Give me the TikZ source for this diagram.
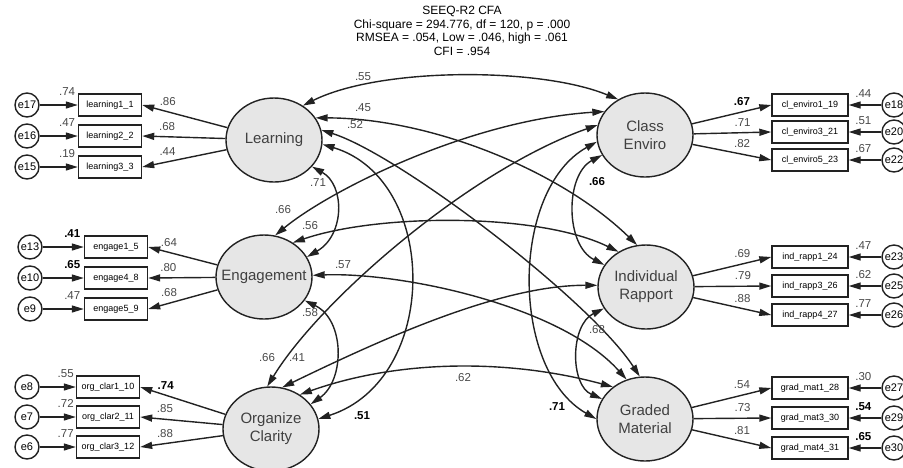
\documentclass[tikz,border=0pt]{standalone}
\usepackage{fontspec}
\setmainfont{Liberation Sans}
\usepackage{xcolor}
\usetikzlibrary{arrows.meta,positioning,shapes.geometric}
\definecolor{linec}{HTML}{222222}
\definecolor{latfill}{HTML}{E6E6E6}
\definecolor{numc}{HTML}{484848}
\tikzset{
  ar/.style={-{Triangle[length=12pt,width=7pt]},line width=1.4pt,linec},
  cov/.style={arrows={Triangle[length=12pt,width=7pt]-Triangle[length=12pt,width=7pt]},line width=1.4pt,linec},
  latent/.style={ellipse,draw=linec,line width=1.4pt,fill=latfill,minimum width=96pt,minimum height=84pt,inner sep=0pt,align=center,font=\fontsize{15}{18}\selectfont,text=black!75},
  obs/.style={draw=linec,line width=1.4pt,minimum height=22pt,inner sep=0pt,font=\fontsize{9}{10}\selectfont},
  err/.style={circle,draw=linec,line width=1.4pt,minimum size=24pt,inner sep=0pt,font=\fontsize{11}{12}\selectfont},
  num/.style={font=\fontsize{11.5}{12}\selectfont,text=numc,inner sep=0.5pt},
  bnum/.style={num,text=black,font=\fontsize{11.5}{12}\selectfont\bfseries}
}
\begin{document}
\begin{tikzpicture}[x=1pt,y=-1pt]
\useasboundingbox (0,0) rectangle (903,467);
\node[font=\fontsize{12}{13.5}\selectfont,align=center] (title) at (462,31)
  {SEEQ-R2 CFA\\Chi-square = 294.776, df = 120, p = .000\\RMSEA = .054, Low = .046, high = .061\\CFI = .954};

% latent factors
\node[latent] (learn) at (274,140) {Learning};
\node[latent,inner xsep=-16pt] (engage) at (264,277) {Engagement};
\node[latent] (organize) at (271,429) {Organize\\Clarity};
\node[latent] (classenv) at (645,135) {Class\\Enviro};
\node[latent] (rapport) at (646,287) {Individual\\Rapport};
\node[latent] (graded) at (645,419) {Graded\\Material};

% left indicators
\node[obs,minimum width=63pt] (l1) at (110,105) {learning1\_1};
\node[obs,minimum width=63pt] (l2) at (110,136) {learning2\_2};
\node[obs,minimum width=63pt] (l3) at (110,167) {learning3\_3};
\node[err] (e17) at (27,105) {e17};
\node[err] (e16) at (27,136) {e16};
\node[err] (e15) at (27,167) {e15};
\draw[ar] (e17) -- node[num,pos=.72,above=8pt] (el1) {.74} (l1);
\draw[ar] (e16) -- node[num,pos=.72,above=8pt] (el2) {.47} (l2);
\draw[ar] (e15) -- node[num,pos=.72,above=8pt] (el3) {.19} (l3);
\draw[ar] (learn) -- node[num,pos=.7,above=5pt] (ll1) {.86} (l1.east);
\draw[ar] (learn) -- node[num,pos=.7,above=5pt] (ll2) {.68} (l2.east);
\draw[ar] (learn) -- node[num,pos=.7,above=5pt] (ll3) {.44} (l3.east);

\node[obs,minimum width=63pt] (g1) at (116,247) {engage1\_5};
\node[obs,minimum width=63pt] (g2) at (116,278) {engage4\_8};
\node[obs,minimum width=63pt] (g3) at (116,309) {engage5\_9};
\node[err] (e13) at (30,247) {e13};
\node[err] (e10) at (30,278) {e10};
\node[err] (e9) at (30,309) {e9};
\draw[ar] (e13) -- node[bnum,pos=.72,above=8pt] (eg1) {.41} (g1);
\draw[ar] (e10) -- node[bnum,pos=.72,above=8pt] (eg2) {.65} (g2);
\draw[ar] (e9) -- node[num,pos=.72,above=8pt] (eg3) {.47} (g3);
\draw[ar] (engage) -- node[num,pos=.7,above=5pt] (gg1) {.64} (g1.east);
\draw[ar] (engage) -- node[num,pos=.7,above=5pt] (gg2) {.80} (g2.east);
\draw[ar] (engage) -- node[num,pos=.7,above=5pt] (gg3) {.68} (g3.east);

\node[obs,minimum width=63pt] (o1) at (108,387) {org\_clar1\_10};
\node[obs,minimum width=63pt] (o2) at (108,417) {org\_clar2\_11};
\node[obs,minimum width=63pt] (o3) at (108,447) {org\_clar3\_12};
\node[err] (e8) at (27,387) {e8};
\node[err] (e7) at (27,417) {e7};
\node[err] (e6) at (27,447) {e6};
\draw[ar] (e8) -- node[num,pos=.72,above=8pt] (eo1) {.55} (o1);
\draw[ar] (e7) -- node[num,pos=.72,above=8pt] (eo2) {.72} (o2);
\draw[ar] (e6) -- node[num,pos=.72,above=8pt] (eo3) {.77} (o3);
\draw[ar] (organize) -- node[bnum,pos=.7,above=5pt] (oo1) {.74} (o1.east);
\draw[ar] (organize) -- node[num,pos=.7,above=5pt] (oo2) {.85} (o2.east);
\draw[ar] (organize) -- node[num,pos=.7,above=5pt] (oo3) {.88} (o3.east);

% right indicators
\node[obs,minimum width=76pt] (c1) at (810,105) {cl\_enviro1\_19};
\node[obs,minimum width=76pt] (c2) at (810,132) {cl\_enviro3\_21};
\node[obs,minimum width=76pt] (c3) at (810,160) {cl\_enviro5\_23};
\node[err] (e18) at (894,105) {e18};
\node[err] (e20) at (894,132) {e20};
\node[err] (e22) at (894,160) {e22};
\draw[ar] (classenv) -- node[bnum,pos=.63,above=5pt] (cc1) {.67} (c1.west);
\draw[ar] (classenv) -- node[num,pos=.63,above=5pt] (cc2) {.71} (c2.west);
\draw[ar] (classenv) -- node[num,pos=.63,above=5pt] (cc3) {.82} (c3.west);
\draw[ar] (e18) -- node[num,pos=.55,above=6pt] (ec1) {.44} (c1);
\draw[ar] (e20) -- node[num,pos=.55,above=6pt] (ec2) {.51} (c2);
\draw[ar] (e22) -- node[num,pos=.55,above=6pt] (ec3) {.67} (c3);

\node[obs,minimum width=76pt] (r1) at (810,257) {ind\_rapp1\_24};
\node[obs,minimum width=76pt] (r2) at (810,286) {ind\_rapp3\_26};
\node[obs,minimum width=76pt] (r3) at (810,315) {ind\_rapp4\_27};
\node[err] (e23) at (894,257) {e23};
\node[err] (e25) at (894,286) {e25};
\node[err] (e26) at (894,315) {e26};
\draw[ar] (rapport) -- node[num,pos=.63,above=5pt] (rr1) {.69} (r1.west);
\draw[ar] (rapport) -- node[num,pos=.63,above=5pt] (rr2) {.79} (r2.west);
\draw[ar] (rapport) -- node[num,pos=.63,above=5pt] (rr3) {.88} (r3.west);
\draw[ar] (e23) -- node[num,pos=.55,above=6pt] (er1) {.47} (r1);
\draw[ar] (e25) -- node[num,pos=.55,above=6pt] (er2) {.62} (r2);
\draw[ar] (e26) -- node[num,pos=.55,above=6pt] (er3) {.77} (r3);

\node[obs,minimum width=76pt] (m1) at (810,388) {grad\_mat1\_28};
\node[obs,minimum width=76pt] (m2) at (810,418) {grad\_mat3\_30};
\node[obs,minimum width=76pt] (m3) at (810,448) {grad\_mat4\_31};
\node[err] (e27) at (894,388) {e27};
\node[err] (e29) at (894,418) {e29};
\node[err] (e30) at (894,448) {e30};
\draw[ar] (graded) -- node[num,pos=.63,above=5pt] (mm1) {.54} (m1.west);
\draw[ar] (graded) -- node[num,pos=.63,above=5pt] (mm2) {.73} (m2.west);
\draw[ar] (graded) -- node[num,pos=.63,above=5pt] (mm3) {.81} (m3.west);
\draw[ar] (e27) -- node[num,pos=.55,above=6pt] (em1) {.30} (m1);
\draw[ar] (e29) -- node[bnum,pos=.55,above=6pt] (em2) {.54} (m2);
\draw[ar] (e30) -- node[bnum,pos=.55,above=6pt] (em3) {.65} (m3);

% covariances
\draw[cov] (learn.50) .. controls (380,67) and (540,67) .. (classenv.127);
\draw[cov] (learn.28) .. controls (430,118) and (560,170) .. (rapport.102);
\draw[cov] (learn.12) .. controls (400,155) and (590,300) .. (graded.97);
\draw[cov] (learn.-35) .. controls (345,185) and (345,235) .. (engage.25);
\draw[cov] (learn.-5) .. controls (440,180) and (440,380) .. (organize.12);
\draw[cov] (engage.75) .. controls (330,190) and (470,120) .. (classenv.150);
\draw[cov] (engage.50) .. controls (380,213) and (540,213) .. (rapport.128);
\draw[cov] (engage.2) .. controls (400,272) and (560,305) .. (graded.115);
\draw[cov] (engage.-30) .. controls (345,320) and (345,380) .. (organize.32);
\draw[cov] (organize.95) .. controls (320,300) and (470,170) .. (classenv.168);
\draw[cov] (organize.75) .. controls (380,340) and (500,285) .. (rapport.178);
\draw[cov] (organize.50) .. controls (400,359) and (510,359) .. (graded.135);
\draw[cov] (classenv.205) .. controls (565,175) and (565,245) .. (rapport.152);
\draw[cov] (classenv.188) .. controls (510,190) and (510,370) .. (graded.180);
\draw[cov] (rapport.207) .. controls (570,325) and (570,385) .. (graded.155);

% covariance values
\node[num] (v1) at (363,77) {.55};
\node[num] (v2) at (363,108) {.45};
\node[num] (v3) at (355,125) {.52};
\node[num] (v4) at (318,183) {.71};
\node[num] (v5) at (283,210) {.66};
\node[num] (v6) at (310,226) {.56};
\node[num] (v7) at (343,265) {.57};
\node[num] (v8) at (310,313) {.58};
\node[num] (v9) at (267,358) {.66};
\node[num] (v10) at (297,358) {.41};
\node[bnum] (v11) at (362,416) {.51};
\node[num] (v12) at (463,378) {.62};
\node[bnum] (v13) at (597,182) {.66};
\node[num] (v14) at (597,330) {.68};
\node[bnum] (v15) at (557,407) {.71};
\end{tikzpicture}
\end{document}
